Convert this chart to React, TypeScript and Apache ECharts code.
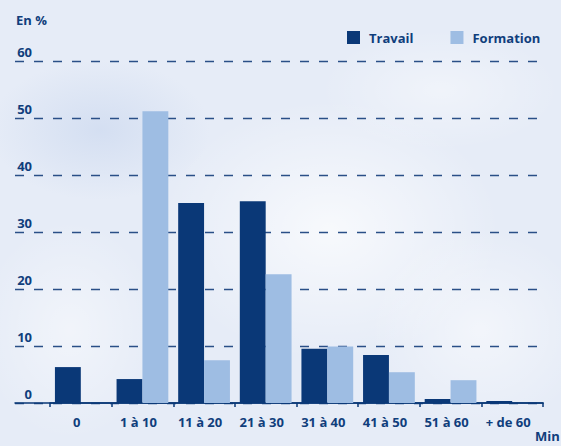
import React, { useEffect, useRef } from "react";
import * as echarts from "echarts";

const categories = ["0", "1 à 10", "11 à 20", "21 à 30", "31 à 40", "41 à 50", "51 à 60", "+ de 60"];
const travail = [6.3, 4.2, 35.1, 35.4, 9.5, 8.4, 0.7, 0.35];
const formation = [0, 51.2, 7.5, 22.6, 9.9, 5.4, 4.0, 0];
const yTicks = { min: 0, max: 60, interval: 10 };

const NAVY = "#0a3877";
const LIGHT = "#9ebde3";
const TEXT = "#103e7c";
const FONT = "'Open Sans', 'Noto Sans', sans-serif";

function blob(cx: number, cy: number, rx: number, ry: number, color: string) {
  return {
    type: "ellipse",
    shape: { cx, cy, rx, ry },
    style: {
      fill: {
        type: "radial",
        x: 0.5,
        y: 0.5,
        r: 0.5,
        colorStops: [
          { offset: 0, color },
          { offset: 1, color: color.replace(/[\d.]+\)$/, "0)") },
        ],
      },
    },
    z: -10,
    silent: true,
  };
}

export default function App() {
  const ref = useRef<HTMLDivElement>(null);
  useEffect(() => {
    if (!ref.current) return;
    const chart = echarts.init(ref.current, null, { renderer: "svg" });
    const top = 61;
    const bottom = 43;
    chart.setOption({
      animation: false,
      backgroundColor: "#e6ecf7",
      textStyle: { fontFamily: FONT },
      graphic: [
        blob(330, 230, 170, 130, "rgba(255,255,255,0.7)"),
        blob(480, 330, 110, 100, "rgba(255,255,255,0.5)"),
        blob(70, 330, 90, 110, "rgba(255,255,255,0.45)"),
        blob(440, 90, 120, 60, "rgba(255,255,255,0.4)"),
        blob(100, 130, 110, 70, "rgba(200,214,238,0.6)"),
        { type: "text", left: 16, top: 13, style: { text: "En %", fill: TEXT, font: `bold 13px ${FONT}` } },
        { type: "text", left: 535, top: 429, style: { text: "Min", fill: TEXT, font: `bold 13px ${FONT}` } },
      ],
      legend: {
        left: 347,
        top: 31,
        padding: 0,
        itemWidth: 13,
        itemHeight: 13,
        itemGap: 37,
        icon: "rect",
        textStyle: { color: TEXT, fontWeight: "bold", fontSize: 13, fontFamily: FONT, padding: [0, 0, 0, 4] },
        data: ["Travail", "Formation"],
      },
      grid: [
        { left: 15, right: 18, top, bottom },
        { left: 50, right: 18, top, bottom },
      ],
      xAxis: [
        {
          type: "value",
          gridIndex: 0,
          min: 0,
          max: 1,
          axisLine: { show: true, lineStyle: { color: NAVY, width: 1.5 } },
          axisTick: { show: false },
          axisLabel: { show: false },
          splitLine: { show: false },
        },
        {
          type: "category",
          gridIndex: 1,
          data: categories,
          axisLine: { show: true, lineStyle: { color: NAVY, width: 1.5 } },
          axisTick: { show: true, length: 4, lineStyle: { color: NAVY, width: 1.5 } },
          axisLabel: { color: TEXT, fontWeight: "bold", fontSize: 13, fontFamily: FONT, margin: 12, padding: [0, 8, 0, 0] },
        },
      ],
      yAxis: [
        {
          type: "value",
          gridIndex: 0,
          min: yTicks.min,
          max: yTicks.max,
          interval: yTicks.interval,
          axisLine: { show: false },
          axisTick: { show: false },
          axisLabel: {
            inside: true,
            align: "right",
            verticalAlign: "bottom",
            margin: 17,
            padding: [0, 0, 3, 0],
            color: TEXT,
            fontWeight: "bold",
            fontSize: 13,
            fontFamily: FONT,
          },
          splitLine: { show: true, lineStyle: { color: "#2a4f87", width: 1.3, type: [9, 10] } },
        },
        {
          type: "value",
          gridIndex: 1,
          min: yTicks.min,
          max: yTicks.max,
          interval: yTicks.interval,
          show: false,
          splitLine: { show: false },
        },
      ],
      series: [
        {
          name: "Travail",
          type: "bar",
          xAxisIndex: 1,
          yAxisIndex: 1,
          data: travail,
          itemStyle: { color: NAVY },
          barGap: "0%",
          barCategoryGap: "16%",
        },
        {
          name: "Formation",
          type: "bar",
          xAxisIndex: 1,
          yAxisIndex: 1,
          data: formation,
          itemStyle: { color: LIGHT },
          barGap: "0%",
          barCategoryGap: "16%",
        },
      ],
    });
    return () => chart.dispose();
  }, []);
  return <div ref={ref} style={{ position: "fixed", left: 0, top: 0, width: 561, height: 446 }} />;
}
